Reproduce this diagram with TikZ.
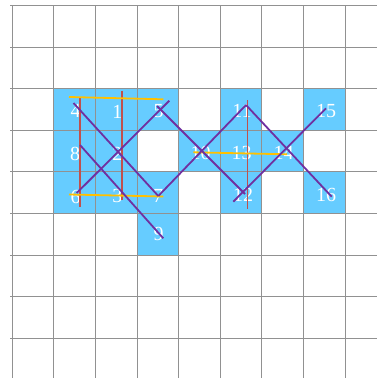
\documentclass[tikz,border=0pt]{standalone}
\usepackage{fontspec}
\setmainfont{Liberation Serif}
\definecolor{cellblue}{RGB}{102,204,255}
\definecolor{gridgray}{RGB}{145,145,145}
\definecolor{redln}{RGB}{192,80,77}
\definecolor{yelln}{RGB}{255,192,0}
\definecolor{purln}{RGB}{112,48,160}
\tikzset{
  gridline/.style={draw=gridgray, line width=1pt},
  cellfill/.style={fill=cellblue},
  lbl/.style={text=white, inner sep=0pt, font=\fontsize{20}{22}\selectfont},
  redline/.style={draw=redln, line width=1.8pt},
  yelline/.style={draw=yelln, line width=1.8pt},
  purline/.style={draw=purln, line width=1.8pt},
}
\begin{document}
\begin{tikzpicture}[x=1pt,y=-1pt]
\useasboundingbox (0,0) rectangle (377,378);
\fill[white] (0,0) rectangle (377,378);
% blue cells
\foreach \c/\r in {1/2,2/2,3/2,5/2,7/2,1/3,2/3,4/3,5/3,6/3,1/4,2/4,3/4,5/4,7/4,3/5}
  \path[cellfill] ({12.3+41.6*\c},{5.5+41.6*\r}) rectangle ++(41.6,41.6);
% grid
\foreach \k in {0,...,8}
  \draw[gridline] ({12.3+41.6*\k},5.5) -- ({12.3+41.6*\k},378);
\foreach \k in {0,...,8}
  \draw[gridline] (10,{5.5+41.6*\k}) -- (377,{5.5+41.6*\k});
% labels
\node[lbl] (n4)  at (75.5,111) {4};
\node[lbl] (n1)  at (117.3,111.5) {1};
\node[lbl] (n5)  at (158.5,111) {5};
\node[lbl] (n8)  at (75,153.5) {8};
\node[lbl] (n2)  at (117.3,154) {2};
\node[lbl] (n10) at (200.5,153) {10};
\node[lbl] (n13) at (241.5,153) {13};
\node[lbl] (n14) at (283.5,153) {14};
\node[lbl] (n11) at (242,110.5) {11};
\node[lbl] (n15) at (326,111) {15};
\node[lbl] (n6)  at (75.5,196.5) {6};
\node[lbl] (n3)  at (117.3,196) {3};
\node[lbl] (n7)  at (158,196) {7};
\node[lbl] (n12) at (243,195) {12};
\node[lbl] (n16) at (326,194.5) {16};
\node[lbl] (n9)  at (158.5,233.5) {9};
% line end points
\coordinate (ra) at (80,97.5);    \coordinate (rb) at (80,206.5);
\coordinate (rc) at (122,90.7);   \coordinate (rd) at (122,199.5);
\coordinate (re) at (247.5,100);  \coordinate (rf) at (247.5,208.5);
\coordinate (ya) at (69,97);      \coordinate (yb) at (163.3,99.3);
\coordinate (yc) at (69,194.5);   \coordinate (yd) at (163.3,196.5);
\coordinate (ye) at (193.3,152.3);\coordinate (yf) at (287,154.3);
\coordinate (p4) at (73.5,103);   \coordinate (p7) at (158.3,196);
\coordinate (p8) at (80,145);     \coordinate (p9) at (163.3,238.3);
\coordinate (p6) at (76.7,193);   \coordinate (p5) at (169.3,100.7);
\coordinate (q5) at (157,106);    \coordinate (q12) at (245,194);
\coordinate (p11) at (246,105);   \coordinate (p16) at (331.7,196.7);
\coordinate (p12) at (233.3,201.7); \coordinate (p15) at (326,108.3);
% red verticals
\draw[redline] (ra) -- (rb);
\draw[redline] (rc) -- (rd);
\draw[redline] (re) -- (rf);
% yellow horizontals
\draw[yelline] (ya) -- (yb);
\draw[yelline] (yc) -- (yd);
\draw[yelline] (ye) -- (yf);
% purple diagonals
\draw[purline] (p4) -- (p7);
\draw[purline] (p8) -- (p9);
\draw[purline] (p6) -- (p5);
\draw[purline] (q5) -- (q12);
\draw[purline] (p7) -- (p11);
\draw[purline] (p11) -- (p16);
\draw[purline] (p12) -- (p15);
\end{tikzpicture}
\end{document}
